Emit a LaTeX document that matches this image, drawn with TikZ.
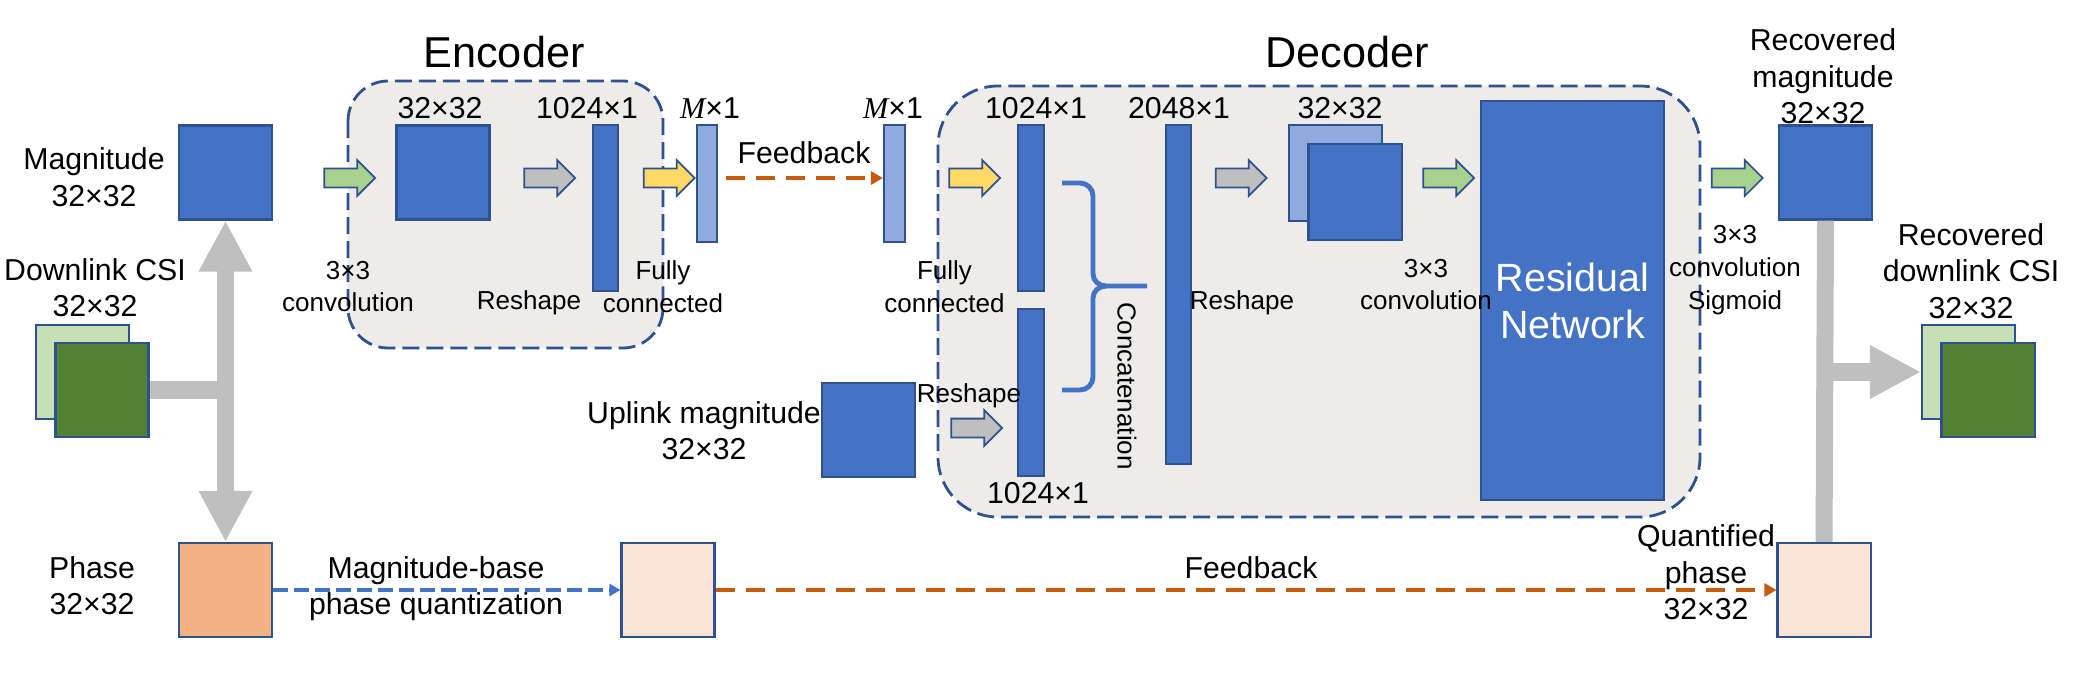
\documentclass[tikz,border=0pt]{standalone}
\usepackage{fontspec}
\setmainfont{Liberation Sans}
\newfontfamily\mfont{Liberation Serif}
\usetikzlibrary{shapes.arrows,arrows.meta}

\definecolor{cblue}{HTML}{4472C4}
\definecolor{bline}{HTML}{2F528F}
\definecolor{clblue}{HTML}{8FAADC}
\definecolor{cgreenL}{HTML}{C5E0B4}
\definecolor{cgreenD}{HTML}{548235}
\definecolor{corange}{HTML}{F4B183}
\definecolor{cpeach}{HTML}{FBE5D6}
\definecolor{agreen}{HTML}{A9D18E}
\definecolor{agray}{HTML}{BFBFBF}
\definecolor{ayellow}{HTML}{FFD966}
\definecolor{fbcol}{HTML}{C55A11}
\definecolor{cgray}{HTML}{EDECEA}

\newcommand{\Mone}{{\mfont\itshape M}×1}

\begin{document}
\begin{tikzpicture}[x=0.01cm, y=-0.01cm,
		sq/.style={draw=bline, line width=0.6pt, inner sep=0pt, minimum width=0.93cm, minimum height=0.94cm},
		vbar/.style={draw=bline, line width=0.6pt, inner sep=0pt, fill=#1, minimum width=0.25cm},
		module/.style={draw=bline, dash pattern=on 0.17cm off 0.07cm, line width=0.8pt, fill=cgray, rounded corners=#1},
		blockarrow/.style={single arrow, draw=bline, line width=0.5pt, fill=#1, inner sep=0pt,
			minimum height=0.51cm, single arrow head extend=0.085cm, single arrow head indent=0pt},
		bigbar/.style={draw=agray, line width=0.17cm},
		bigtip/.style={-{Triangle[length=0.51cm, width=0.5cm]}},
		fb/.style={draw=fbcol, line width=1.1pt, dash pattern=on 0.19cm off 0.11cm, -{Triangle[length=0.12cm, width=0.13cm]}},
		qz/.style={draw=cblue, line width=1.1pt, dash pattern=on 0.15cm off 0.06cm, -{Triangle[length=0.11cm, width=0.12cm]}},
		lbl/.style={align=center, inner sep=0pt, font=\fontsize{8.6}{10.4}\selectfont},
		sml/.style={align=center, inner sep=0pt, font=\fontsize{7.4}{9.3}\selectfont},
		title/.style={inner sep=0pt, font=\fontsize{12.3}{14}\selectfont}]

		\useasboundingbox (0,0) rectangle (2077,676);

		% encoder / decoder frames
		\draw[module=0.4cm] (348,81) rectangle (663,348);
		\draw[module=0.6cm] (938,86) rectangle (1700,517);
		\node[title] (enc) at (504,52) {Encoder};
		\node[title] (dec) at (1347,52) {Decoder};

		% inputs
		\node[sq, fill=cblue] (mag) at (225.5,172.5) {};
		\node[sq, fill=cgreenL] (csiB) at (82.5,372) {};
		\node[sq, fill=cgreenD] (csiF) at (102,390) {};
		\node[sq, fill=corange] (phase) at (225.5,590) {};
		\node[sq, fill=cpeach] (qphase) at (668,590) {};
		\node[sq, fill=cpeach] (rphase) at (1824,590) {};
		\node[sq, fill=cblue] (up) at (868.5,430) {};

		% encoder
		\node[sq, fill=cblue] (esq) at (443,172.5) {};
		\node[vbar=cblue, minimum height=1.66cm] (ebar) at (605.5,208) {};
		\node[vbar=clblue, minimum width=0.2cm, minimum height=1.17cm] (m1) at (707,183.5) {};

		% decoder
		\node[vbar=clblue, minimum width=0.21cm, minimum height=1.17cm] (m2) at (894.5,183.5) {};
		\node[vbar=cblue, minimum width=0.26cm, minimum height=1.66cm] (dbarA) at (1031,208) {};
		\node[vbar=cblue, minimum width=0.26cm, minimum height=1.67cm] (dbarB) at (1031,392.5) {};
		\node[vbar=cblue, minimum height=3.39cm] (dbarC) at (1178.5,294.5) {};
		\node[sq, fill=clblue, minimum height=0.96cm] (dsqB) at (1335.5,173) {};
		\node[sq, fill=cblue, minimum height=0.96cm] (dsqF) at (1355,192) {};
		\node[sq, fill=cblue, minimum width=1.83cm, minimum height=3.99cm, text=white,
			align=center, font=\fontsize{11.2}{13.4}\selectfont] (res) at (1572.5,300.5) {Residual\\Network};

		% outputs
		\node[sq, fill=cblue] (rmag) at (1825.5,172.5) {};
		\node[sq, fill=cgreenL] (rcsiB) at (1968.5,372) {};
		\node[sq, fill=cgreenD] (rcsiF) at (1988,390) {};

		% block arrows
		\node[blockarrow=agreen] (a1) at (345,178) {\rule{0pt}{0.17cm}};
		\node[blockarrow=agray] (a2) at (545,178) {\rule{0pt}{0.17cm}};
		\node[blockarrow=ayellow] (a3) at (664.5,178) {\rule{0pt}{0.17cm}};
		\node[blockarrow=ayellow] (a4) at (970,178) {\rule{0pt}{0.17cm}};
		\node[blockarrow=agray] (a5) at (1236.5,178) {\rule{0pt}{0.17cm}};
		\node[blockarrow=agreen] (a6) at (1444,178) {\rule{0pt}{0.17cm}};
		\node[blockarrow=agreen] (a7) at (1732.5,178) {\rule{0pt}{0.17cm}};
		\node[blockarrow=agray] (a8) at (972,428) {\rule{0pt}{0.17cm}};

		% split and merge of the CSI
		\coordinate (jl) at (225.5,390);
		\coordinate (jr) at (1825.5,372);
		\draw[bigbar] (csiF.east) -- ([xshift=0.085cm]jl);
		\draw[bigbar, bigtip] (jl) -- (mag.south);
		\draw[bigbar, bigtip] (jl) -- (phase.north);
		\draw[bigbar] (rmag.south) -- (rphase.north);
		\draw[bigbar, bigtip] ([xshift=-0.085cm]jr) -- (rcsiB.west);

		% concatenation brace
		\draw[cblue, line width=1.4pt] (1062,183) -- (1080,183) to[out=0,in=90] (1093,196) -- (1093,274)
			to[out=-90,in=180] (1106,286) -- (1147,286);
		\draw[cblue, line width=1.4pt] (1106,286) to[out=180,in=90] (1093,298) -- (1093,377)
			to[out=-90,in=0] (1080,390) -- (1062,390);

		\path
		([yshift=0.055cm, xshift=0.08cm]m1.east) edge [fb] ([yshift=0.055cm]m2.west)
		(phase.east) edge [qz] (qphase.west)
		(qphase.east) edge [fb] (rphase.west);

		% labels
		\node[lbl] (magl) at (94,177) {Magnitude\\32×32};
		\node[lbl] (csil) at (95,287.5) {Downlink CSI\\32×32};
		\node[lbl] (phasel) at (92,585.5) {Phase\\32×32};
		\node[lbl] (esql) at (440,108) {32×32};
		\node[lbl] (ebarl) at (587,108) {1024×1};
		\node[lbl] (m1l) at (710,108) {\Mone};
		\node[lbl] (m2l) at (893,108) {\Mone};
		\node[lbl] (fbl) at (804,153) {Feedback};
		\node[sml] (convl) at (348,286.5) {3×3\\convolution};
		\node[sml] (reshl) at (529,303) {Reshape};
		\node[sml] (fcl) at (663,286.5) {Fully\\connected};
		\node[sml] (dfcl) at (944.5,286.5) {Fully\\connected};
		\node[lbl] (dbarAl) at (1036,108) {1024×1};
		\node[lbl] (dbarBl) at (1038,493) {1024×1};
		\node[lbl] (dbarCl) at (1179,108) {2048×1};
		\node[sml] (dreshl) at (1242,303) {Reshape};
		\node[lbl] (dsql) at (1340,108) {32×32};
		\node[sml] (dconvl) at (1426,284.5) {3×3\\convolution};
		\node[sml] (sigl) at (1735,270) {3×3\\convolution\\Sigmoid};
		\node[sml, rotate=-90] (catl) at (1127,386) {Concatenation};
		\node[lbl] (upl) at (704,430.5) {Uplink magnitude\\32×32};
		\node[sml] (upreshl) at (969,396) {Reshape};
		\node[lbl] (rmagl) at (1823,76.5) {Recovered\\magnitude\\32×32};
		\node[lbl] (rcsil) at (1971,271) {Recovered\\downlink CSI\\32×32};
		\node[lbl] (qzl) at (436,588.5) {Magnitude-base\\phase quantization};
		\node[lbl] (fb2l) at (1251,568) {Feedback};
		\node[lbl] (rphasel) at (1706,572.5) {Quantified\\phase\\32×32};
\end{tikzpicture}
\end{document}
